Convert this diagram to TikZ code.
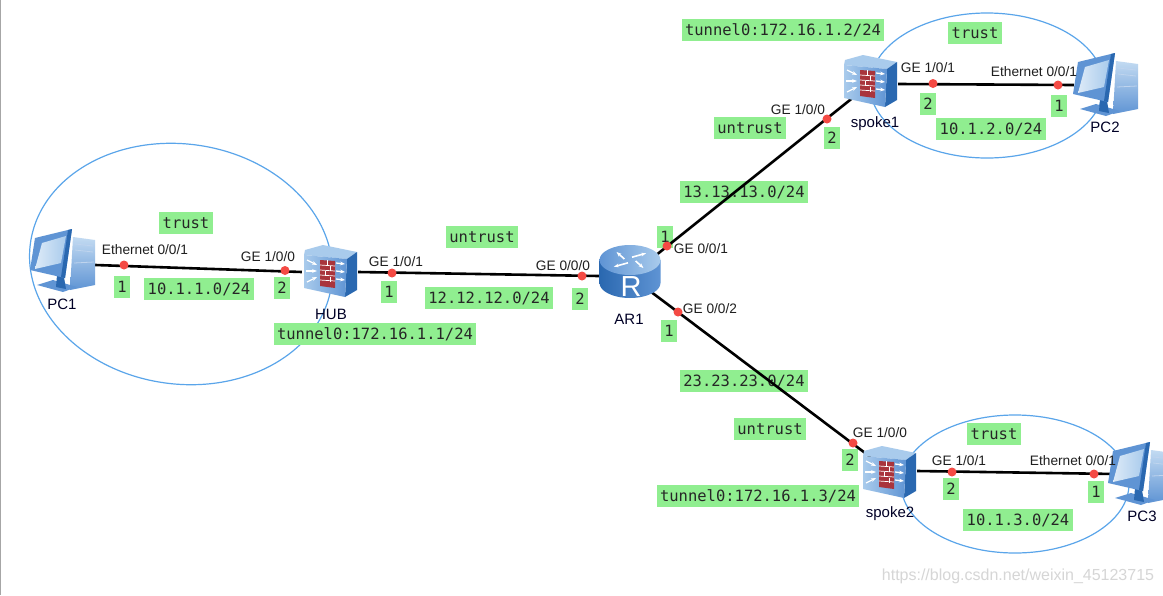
\documentclass[tikz,border=0pt]{standalone}
\usepackage{fontspec}
\setmainfont{Liberation Sans}
\newfontfamily\labelmono{DejaVu Sans Mono}
\usetikzlibrary{positioning,arrows.meta,shapes.geometric}
\definecolor{netgreen}{HTML}{90EE90}
\definecolor{netzone}{HTML}{5AA5EA}
\definecolor{netred}{HTML}{F44A44}
\definecolor{iconblue}{HTML}{5F94D4}
\definecolor{icondark}{HTML}{2A68B0}
\definecolor{iconlight}{HTML}{A9CBEC}
\definecolor{brick}{HTML}{A9343C}
\tikzset{
    zone/.style={ellipse,draw=netzone,line width=1.2pt,inner sep=0pt},
    link/.style={draw=black,line width=2.6pt},
    devbox/.style={inner sep=0pt,minimum height=50pt},
    port/.style={circle,fill=netred,inner sep=0pt,minimum size=9pt},
    portlabel/.style={font=\fontsize{13.7}{15}\selectfont,text=black!88,inner sep=0pt},
    devlabel/.style={font=\fontsize{15}{17}\selectfont,text=black!85!blue,inner sep=0pt},
    tag/.style={fill=netgreen,font=\labelmono\fontsize{15.5}{17}\selectfont,text=black!85,inner xsep=3.5pt,inner ysep=0pt,minimum height=21.5pt},
    pics/fwicon/.style={code={
        \fill[iconlight] (-26,-16) -- (-25,-21) -- (-7,-26) -- (27,-19) -- (17,-12) -- cycle;
        \fill[icondark] (17,-12) -- (27,-19) -- (27,19) -- (15,26) -- cycle;
        \shade[left color=iconlight,right color=iconblue] (-26,-16) -- (17,-12) -- (15,26) -- (-26,17) -- cycle;
        \fill[brick] (-10,-11) -- (5,-10) -- (5,17) -- (-10,15) -- cycle;
        \foreach \wy in {-6,-1,4,9}
            \draw[white,line width=.7pt] (-10,\wy) -- (5,\wy+1);
        \draw[white,line width=.7pt] (-3,-11) -- (-3,-6) (0,-5) -- (0,0) (-5,0) -- (-5,5) (0,6) -- (0,11);
        \draw[-{Stealth[length=5pt]},white,line width=1.3pt] (-23,-11) -- (-13,-6);
        \draw[-{Stealth[length=5pt]},white,line width=1.3pt] (-24,0) -- (-13,0);
        \draw[-{Stealth[length=5pt]},white,line width=1.3pt] (-23,11) -- (-13,6);
        \foreach \ay in {-8,0,8}
            \draw[-{Stealth[length=5pt]},white,line width=1.3pt] (6,\ay) -- (15,\ay+1);
    }},
    pics/routericon/.style={code={
        \shade[left color=icondark,right color=iconblue] (-30.5,-11) -- (-30.5,12) arc[start angle=180,end angle=0,x radius=30.5,y radius=15] -- (30.5,-11) -- cycle;
        \shade[left color=iconblue,right color=iconlight] (0,-11) ellipse[x radius=30.5,y radius=15];
        \foreach \ra in {20,110,200,290}
            \draw[-{Stealth[length=5pt]},white,line width=1.6pt,shift={(0,-11)},yscale=.5] (\ra:6) -- (\ra+30:21);
        \node[white,font=\fontsize{29}{30}\selectfont,inner sep=0pt] (Rmark) at (1,16) {R};
    }},
    pics/pcicon/.style={code={
        \shade[top color=iconlight!70!white,bottom color=iconblue] (8,-22) -- (30,-19) -- (30,26) -- (5,31) -- cycle;
        \draw[white!60!iconblue,line width=.8pt] (10,-15) -- (28,-13) (10,-9) -- (28,-7) (9,4) -- (29,3);
        \fill[iconblue] (-12,21) -- (12,28) -- (-2,33) -- (-28,26) -- cycle;
        \fill[icondark] (-8,16) -- (-1,18) -- (1,30) -- (-9,28) -- cycle;
        \fill[iconblue] (-30,-21) -- (7,-30) -- (0,19) -- (-35,11) -- cycle;
        \fill[icondark] (3,-29) -- (7,-30) -- (0,19) -- (-4,18) -- cycle;
        \shade[left color=iconlight!40!white,right color=iconlight] (-23,-16) -- (1,-23) -- (-4,4) -- (-30,10) -- cycle;
    }},
}
\begin{document}
\begin{tikzpicture}[x=1pt,y=-1pt]
    \useasboundingbox (0,0) rectangle (1163,595);
    \clip (0,0) rectangle (1163,595);
    \fill[white] (0,0) rectangle (1163,595);
    \fill[black!35] (0,0) rectangle (1.2,595);

    % trust zones
    \node[zone,minimum width=304pt,minimum height=240pt,rotate=-8] (zoneHUB) at (181,264) {};
    \node[zone,minimum width=234pt,minimum height=145pt] (zoneSP1) at (987,85.5) {};
    \node[zone,minimum width=228pt,minimum height=138pt] (zoneSP2) at (1015,484) {};

    % green tags
    \node[tag] (t1) at (186,223) {trust};
    \node[tag] (t2) at (199,289) {10.1.1.0/24};
    \node[tag] (t3) at (122,287) {1};
    \node[tag] (t4) at (282,288) {2};
    \node[tag] (t5) at (389,292) {1};
    \node[tag] (t6) at (375,334) {tunnel0:172.16.1.1/24};
    \node[tag] (t7) at (482,237) {untrust};
    \node[tag] (t8) at (489,298) {12.12.12.0/24};
    \node[tag] (t9) at (580,299) {2};
    \node[tag] (t10) at (665,237) {1};
    \node[tag] (t11) at (669,331) {1};
    \node[tag] (t12) at (744,192) {13.13.13.0/24};
    \node[tag] (t13) at (744,381) {23.23.23.0/24};
    \node[tag] (t14) at (750,128) {untrust};
    \node[tag] (t15) at (783,30) {tunnel0:172.16.1.2/24};
    \node[tag] (t16) at (832,138) {2};
    \node[tag] (t17) at (975,33) {trust};
    \node[tag] (t18) at (928,104) {2};
    \node[tag] (t19) at (1059,106) {1};
    \node[tag] (t20) at (991,129) {10.1.2.0/24};
    \node[tag] (t21) at (994,434) {trust};
    \node[tag] (t22) at (850,460) {2};
    \node[tag] (t23) at (951,489) {2};
    \node[tag] (t24) at (1096,492) {1};
    \node[tag] (t25) at (1018,520) {10.1.3.0/24};
    \node[tag] (t26) at (758,496) {tunnel0:172.16.1.3/24};
    \node[tag] (t27) at (770,429) {untrust};

    % devices
    \node[devbox,minimum width=60pt] (PC1) at (65,265) {};
    \node[devbox,minimum width=56pt] (HUB) at (330,272) {};
    \node[devbox,minimum width=62pt] (AR1) at (630,276) {};
    \node[devbox,minimum width=56pt] (spoke1) at (870,84) {};
    \node[devbox,minimum width=56pt] (spoke2) at (889,471) {};
    \node[devbox,minimum width=62pt] (PC2) at (1105,85) {};
    \node[devbox,minimum width=60pt] (PC3) at (1146,474) {};

    \path[link]
    (PC1.east) -- (HUB.west)
    (HUB.east) -- (AR1.west)
    (AR1.center) -- (spoke1.center)
    (AR1.center) -- (spoke2.center)
    (spoke1.east) -- (PC2.west)
    (spoke2.east) -- (PC3.west);

    \node[port] (p1a) at (124,265) {};
    \node[port] (p1b) at (285,270.5) {};
    \node[port] (p2a) at (392,273) {};
    \node[port] (p2b) at (582,276) {};
    \node[port] (p3a) at (667,246) {};
    \node[port] (p3b) at (827,119) {};
    \node[port] (p4a) at (678,312) {};
    \node[port] (p4b) at (853,443) {};
    \node[port] (p5a) at (933,83.5) {};
    \node[port] (p5b) at (1058,85) {};
    \node[port] (p6a) at (952,472) {};
    \node[port] (p6b) at (1094,474) {};

    \pic at (65,259) {pcicon};
    \pic at (330,271) {fwicon};
    \pic at (630,271) {routericon};
    \pic at (870,81) {fwicon};
    \pic at (889,472) {fwicon};
    \pic at (1108,83) {pcicon};
    \pic at (1143,472) {pcicon};

    % device names
    \node[devlabel] (nPC1) at (62,304) {PC1};
    \node[devlabel] (nHUB) at (331,314) {HUB};
    \node[devlabel] (nAR1) at (629,319) {AR1};
    \node[devlabel] (nSP1) at (875,124) {spoke1};
    \node[devlabel] (nSP2) at (890,514) {spoke2};
    \node[devlabel] (nPC2) at (1105,127) {PC2};
    \node[devlabel] (nPC3) at (1142,516) {PC3};

    % port names
    \node[portlabel] (e1) at (145,250) {Ethernet 0/0/1};
    \node[portlabel] (e2) at (268,257) {GE 1/0/0};
    \node[portlabel] (e3) at (396,262) {GE 1/0/1};
    \node[portlabel] (e4) at (563,266) {GE 0/0/0};
    \node[portlabel] (e5) at (701,249) {GE 0/0/1};
    \node[portlabel] (e6) at (710,309) {GE 0/0/2};
    \node[portlabel] (e7) at (798,110) {GE 1/0/0};
    \node[portlabel] (e8) at (928,68) {GE 1/0/1};
    \node[portlabel] (e9) at (1034,72) {Ethernet 0/0/1};
    \node[portlabel] (e10) at (880,433) {GE 1/0/0};
    \node[portlabel] (e11) at (959,461) {GE 1/0/1};
    \node[portlabel] (e12) at (1073,461) {Ethernet 0/0/1};

    \node[font=\fontsize{16}{18}\selectfont,text=black!16,inner sep=0pt] (mark) at (1018,576) {https://blog.csdn.net/weixin\_45123715};
\end{tikzpicture}
\end{document}
